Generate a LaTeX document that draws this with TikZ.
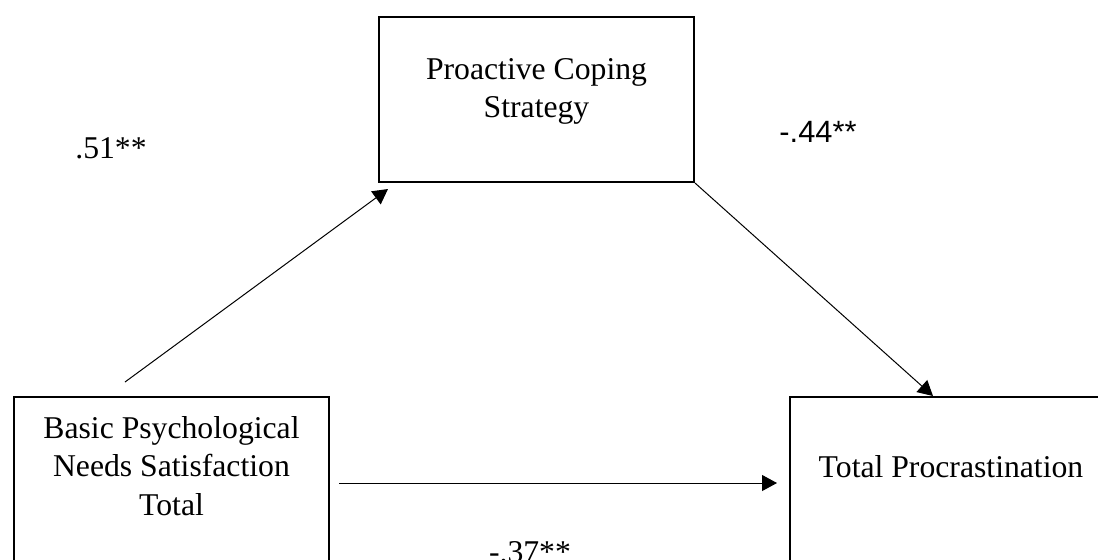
\documentclass[tikz,border=0pt]{standalone}
\usepackage{fontspec}
\setmainfont{Liberation Serif}
\newfontfamily\arialfont{Liberation Sans}
\usetikzlibrary{positioning,arrows.meta}
\tikzset{
  varbox/.style={draw,line width=1pt,rectangle,inner sep=0pt,anchor=north west},
  vartext/.style={align=center,inner sep=0pt,font=\fontsize{15.85pt}{19.25pt}\selectfont},
  coef/.style={inner sep=0pt,anchor=base,font=\fontsize{15.85pt}{19.25pt}\selectfont},
  path/.style={line width=0.5pt,-{Triangle[length=7.5pt,width=8pt]}}
}
\begin{document}
\begin{tikzpicture}[x=0.5pt,y=-0.5pt]
        \useasboundingbox (0,0) rectangle (1098,559);
        \clip (0,0) rectangle (1098,559);
        % boxes
        \node[varbox,minimum width=157.5pt,minimum height=82.5pt] (coping) at (378,16) {};
        \node[varbox,minimum width=157.5pt,minimum height=100pt] (basic) at (13,396) {};
        \node[varbox,minimum width=161pt,minimum height=100pt] (procr) at (789,396) {};
        \node[vartext,below=21pt of coping.north] (copingtxt) {Proactive Coping\\Strategy};
        \node[vartext,below=10pt of basic.north] (basictxt) {Basic Psychological\\Needs Satisfaction\\Total};
        \node[vartext,below=29.5pt of procr.north] (procrtxt) {Total Procrastination};
        % paths
        \coordinate (astart) at (125,382);
        \draw[path] (astart) -- ([shift={(10,6)}]coping.south west);
        \draw[path] (coping.south east) -- ([shift={(144,0)}]procr.north west);
        \draw[path] ([shift={(9,87)}]basic.north east) -- ([shift={(-12,87)}]procr.north west);
        % coefficients
        \node[coef] (acoef) at (111,158) {.51**};
        \node[coef,font=\arialfont\fontsize{15.4pt}{18pt}\selectfont] (bcoef) at (818,142) {-.44**};
        \node[coef] (ccoef) at (530,562) {-.37**};
\end{tikzpicture}
\end{document}
